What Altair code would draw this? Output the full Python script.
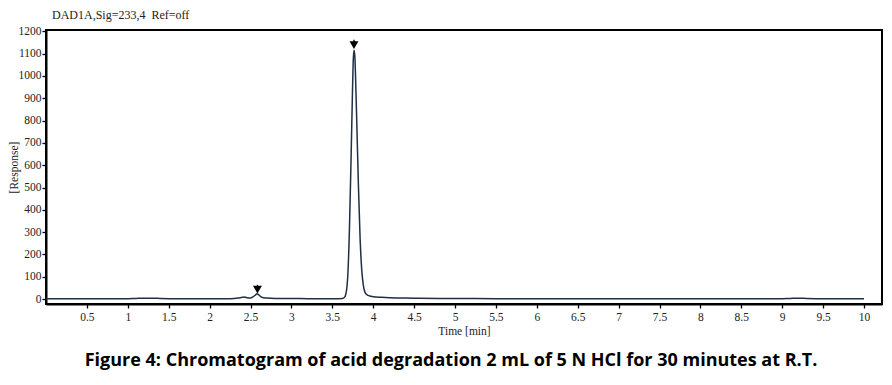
import altair as alt
import pandas as pd

# Chromatogram trace (time in min, response)
time = [0.0, 0.5, 1.0, 1.1, 1.2, 1.3, 1.4, 1.6, 2.0, 2.2, 2.3, 2.35, 2.40, 2.43, 2.46, 2.50, 2.53,
        2.56, 2.58, 2.60, 2.63, 2.66, 2.70, 2.75, 2.85, 3.0, 3.2, 3.4, 3.55, 3.62, 3.65, 3.67,
        3.69, 3.71, 3.73, 3.745, 3.755, 3.765, 3.775, 3.79, 3.80, 3.82, 3.84, 3.86, 3.88, 3.90,
        3.93, 3.97, 4.0, 4.1, 4.2, 4.3, 4.5, 4.8, 5.0, 5.5, 6.0, 6.5, 7.0, 7.5, 8.0, 8.5,
        9.0, 9.1, 9.2, 9.3, 9.5, 10.0]
response = [2, 2, 2, 3, 4, 4, 3, 2, 2, 2, 3, 5, 8, 9, 6, 5, 10,
            18, 24, 19, 10, 6, 5, 4, 3, 3, 2, 2, 2, 3, 8, 30,
            110, 320, 640, 900, 1060, 1115, 1090, 920, 780, 500, 270, 130, 60, 30,
            18, 13, 11, 8, 6, 5, 4, 3, 3, 2, 2, 2, 2, 2, 2, 2,
            2, 3, 4, 3, 2, 2]

# Peak markers
peak_time = [2.585, 3.765]
peak_mark = [42, 1138]
peak_stem_top = [64, 1162]

x_ticks = [0.5, 1, 1.5, 2, 2.5, 3, 3.5, 4, 4.5, 5, 5.5, 6, 6.5, 7, 7.5, 8, 8.5, 9, 9.5, 10]
y_ticks = [0, 100, 200, 300, 400, 500, 600, 700, 800, 900, 1000, 1100, 1200]

title_text = "DAD1A,Sig=233,4\u00a0\u00a0Ref=off"
caption = "Figure 4: Chromatogram of acid degradation 2 mL of 5 N HCl for 30 minutes at R.T."

trace = pd.DataFrame({"t": time, "r": response})
peaks = pd.DataFrame({"t": peak_time, "m": peak_mark, "s": peak_stem_top})

serif = "Liberation Serif"
xscale = alt.Scale(domain=[0, 10.22], nice=False, zero=False)
yscale = alt.Scale(domain=[-22, 1206], nice=False, zero=False)

xaxis = alt.Axis(values=x_ticks, format="~g", title="Time [min]", labelFont=serif, titleFont=serif,
                 labelFontSize=11.5, titleFontSize=11.5, titleFontWeight="normal",
                 labelColor="#222", titleColor="#222", domainColor="black", domainWidth=2,
                 tickColor="black", tickSize=4, tickWidth=1.3, grid=False, labelPadding=3,
                 titlePadding=3, labelFlush=False, labelOverlap=False)
yaxis = alt.Axis(values=y_ticks, format="d", title="[Response]", labelFont=serif, titleFont=serif,
                 labelFontSize=11.5, titleFontSize=11.5, titleFontWeight="normal",
                 labelColor="#222", titleColor="#222", domainColor="black", domainWidth=2,
                 tickColor="black", tickSize=4, tickWidth=1.3, grid=False, labelPadding=1,
                 labelOverlap=False, labelFlush=False, titleX=-32, titleY=137, titleAngle=-90,
                 titleBaseline="middle", titleAlign="center")

line = alt.Chart(trace).mark_line(color="#1f2f44", strokeWidth=1.5, interpolate="monotone").encode(
    x=alt.X("t:Q", scale=xscale, axis=xaxis),
    y=alt.Y("r:Q", scale=yscale, axis=yaxis),
)

stems = alt.Chart(peaks).mark_rule(color="black", strokeWidth=1.4).encode(
    x=alt.X("t:Q", scale=xscale, axis=xaxis),
    y=alt.Y("m:Q", scale=yscale, axis=yaxis),
    y2="s:Q",
)

tri = alt.Chart(peaks).mark_point(shape="triangle-down", filled=True, color="black",
                                 size=80, opacity=1).encode(
    x=alt.X("t:Q", scale=xscale, axis=xaxis),
    y=alt.Y("m:Q", scale=yscale, axis=yaxis),
)

cap = alt.Chart(pd.DataFrame({"c": [caption]})).mark_text(
    font="Open Sans", fontWeight="bold", fontSize=18, color="black", align="center", baseline="middle"
).encode(x=alt.value(405), y=alt.value(331), text="c:N")

chart = alt.layer(line, stems, tri, cap).properties(
    width=836, height=274,
    autosize=alt.AutoSizeParams(type="none"),
    padding={"left": 46, "top": 30, "right": 10, "bottom": 81},
    title=alt.TitleParams(title_text, anchor="start", frame="group",
                          font=serif, fontSize=12, fontWeight="normal", color="#222",
                          dx=6, offset=3),
).configure(background="white").configure_view(
    stroke="black", strokeWidth=2
).configure_axis(labelOverlap=False)

chart.save("out.html", embed_options={"renderer": "svg", "actions": False})
